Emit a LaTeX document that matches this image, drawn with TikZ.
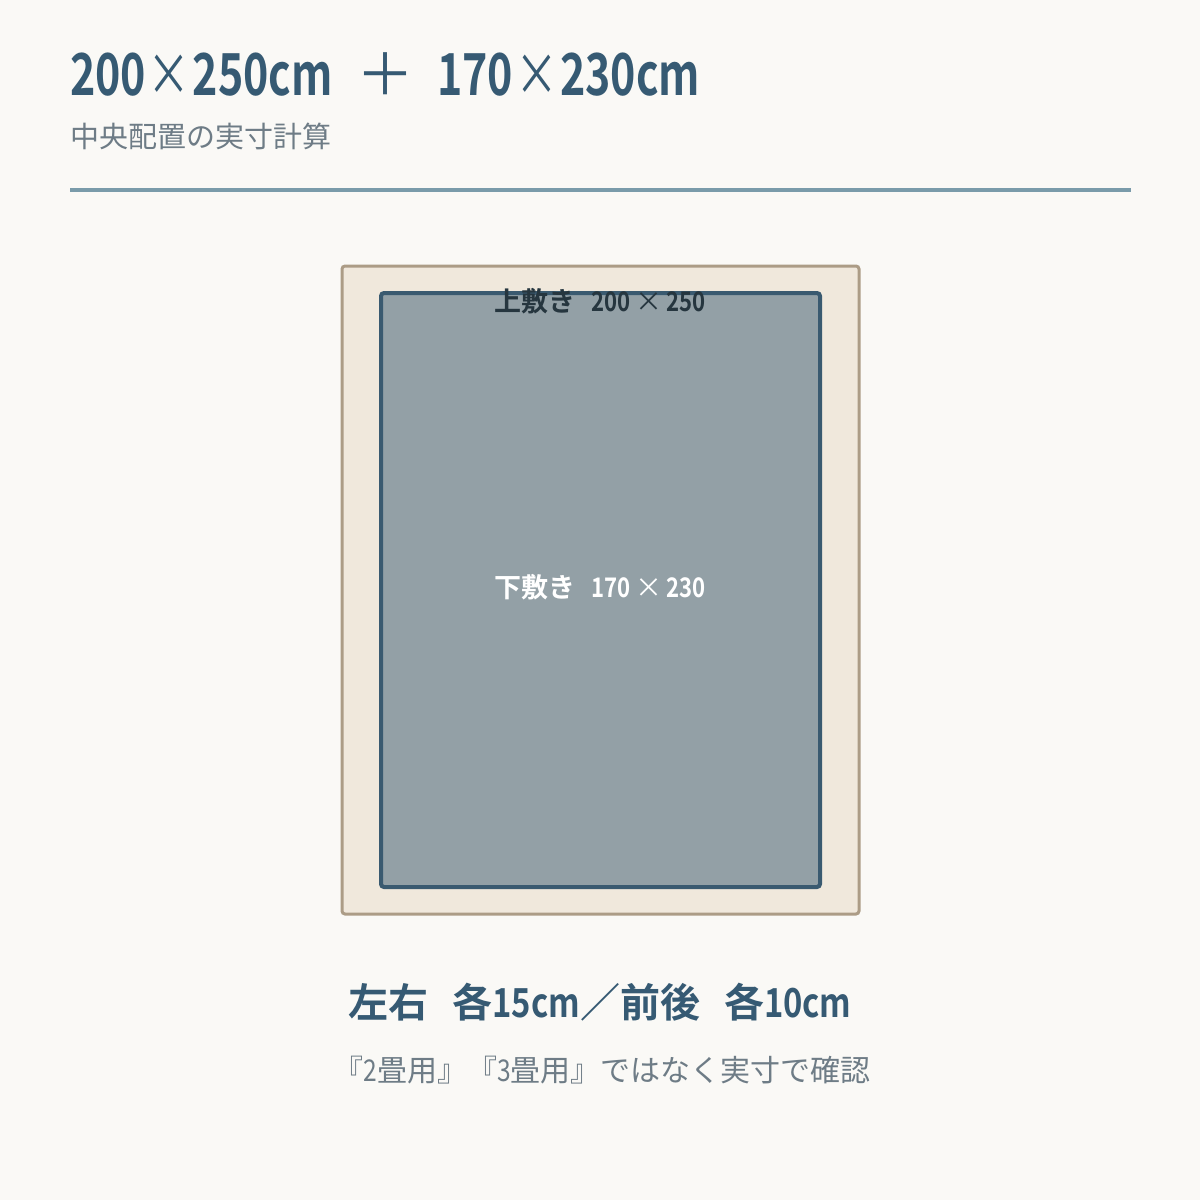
\documentclass[tikz,border=0pt]{standalone}
\usepackage{fontspec}
\setmainfont{Noto Sans CJK JP}[BoldFont={* Bold}]
\newfontfamily\nums{Noto Sans CJK JP}[FakeStretch=0.82,BoldFont={* Bold}]
\newfontfamily\numsT{Noto Sans CJK JP}[FakeStretch=0.74,BoldFont={* Bold}]
\definecolor{bgc}{HTML}{FAF9F6}
\definecolor{titlec}{HTML}{365A73}
\definecolor{grayc}{HTML}{6E7C86}
\definecolor{rulec}{HTML}{7A9BAA}
\definecolor{outerfill}{HTML}{F0E8DC}
\definecolor{outerdraw}{HTML}{AC9C86}
\definecolor{innerfill}{HTML}{93A0A6}
\definecolor{innerdraw}{HTML}{3A5A70}
\definecolor{labeldark}{HTML}{26363F}
\tikzset{
  txt/.style={inner sep=0pt, outer sep=0pt},
  outerrug/.style={fill=outerfill, draw=outerdraw, line width=3pt, rounded corners=3pt},
  innerrug/.style={fill=innerfill, draw=innerdraw, line width=4pt, rounded corners=3pt},
}
\newcommand{\tms}{{\normalfont\mdseries\,×\,}}
\newcommand{\tmsT}{{\mdseries\hspace{2pt}×\hspace{2pt}}}
\begin{document}
\begin{tikzpicture}[x=1pt,y=-1pt]
\useasboundingbox (0,0) rectangle (1200,1200);
\fill[bgc] (0,0) rectangle (1200,1200);
% title
\node[txt, anchor=base west, text=titlec] (title) at (70,95)
  {\fontsize{58}{60}\selectfont\bfseries\numsT 200\tmsT 250cm\hspace{0.4em}{\normalfont\mdseries ＋}\hspace{0.4em}170\tmsT 230cm};
\node[txt, anchor=base west, text=grayc] (sub) at (70,147)
  {\fontsize{29}{32}\selectfont 中央配置の実寸計算};
\draw[rulec, line width=4pt] (70,190) coordinate (r1) -- (1131,190) coordinate (r2);
% rugs
\draw[outerrug] (342,266) rectangle (859,914);
\node[txt] (outer) at (600.5,590) {};
\draw[innerrug] (381,293) rectangle (820,887);
\node[txt, anchor=base, text=labeldark] (upper) at (600,311)
  {\fontsize{27}{30}\selectfont\bfseries 上敷き\hspace{0.6em}{\nums 200\tms 250}};
\node[txt, anchor=base, text=white] (lower) at (600,597)
  {\fontsize{27}{30}\selectfont\bfseries 下敷き\hspace{0.6em}{\nums 170\tms 230}};
% bottom
\node[txt, anchor=base, text=titlec] (diff) at (600,1017)
  {\fontsize{40}{42}\selectfont\bfseries 左右\hspace{0.6em}各{\nums 15cm}／前後\hspace{0.6em}各{\nums 10cm}};
\node[txt, anchor=base, text=grayc] (note) at (602,1081)
  {\fontsize{30}{32}\selectfont 『{\nums 2}畳用』『{\nums 3}畳用』ではなく実寸で確認};
\end{tikzpicture}
\end{document}
